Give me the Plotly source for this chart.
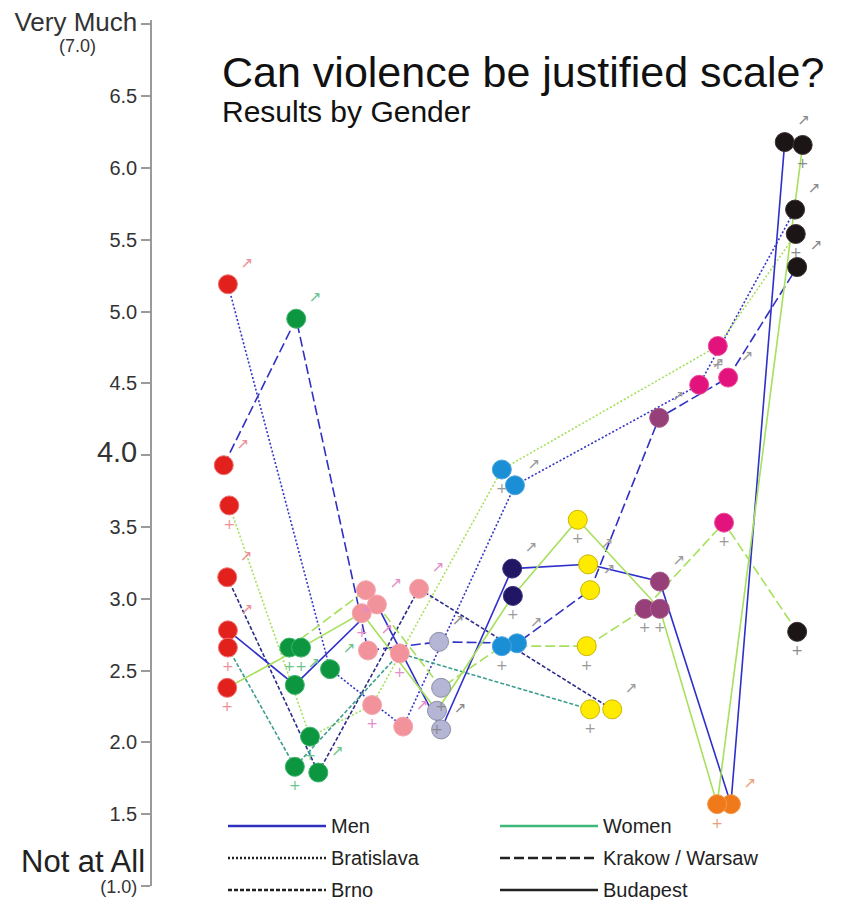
import plotly.graph_objects as go

# ---------------- data ----------------
# item colour groups (categories of the coloured dots)
items = ["red", "green", "pink", "lavender", "blue", "navy", "yellow", "purple", "magenta", "orange", "black"]
item_fill = ["#e2211d", "#0c9640", "#f2929b", "#b5b5d5", "#1b8fd6", "#211663", "#ffeb00", "#973f79", "#e3137e", "#f07a1a", "#1c1515"]
item_edge = ["#f07070", "#3cb46a", "#f5a8b0", "#8e8ea8", "#4aa6e0", "#3a3080", "#c9b600", "#a65a8c", "#ec4c98", "#f39a55", "#3a3030"]
item_symbol = ["#ee8e96", "#6cc48c", "#e48cc8", "#8a8a8a", "#9a9a9a", "#9a9a9a", "#9a9a9a", "#9a9a9a", "#9a9a9a", "#eba07c", "#8a8a8a"]

# every dot: id, item, gender, horizontal position (0-100), score (1-7 scale)
point_id = ["R1", "R2", "R3", "R4", "R5", "R6", "R7",
            "G1", "G2", "G3", "G4", "G5", "G6", "G7", "G8",
            "P1", "P2", "P3", "P4", "P5", "P6", "P7", "P8",
            "L1", "L2", "L3", "L4",
            "B1", "B2", "B3", "B4",
            "N1", "N2",
            "Y1", "Y2", "Y3", "Y4", "Y5", "Y6",
            "U1", "U2", "U3", "U4",
            "M1", "M2", "M3", "M4",
            "O1", "O2",
            "K1", "K2", "K3", "K4", "K5", "K6"]
point_item = ["red"] * 7 + ["green"] * 8 + ["pink"] * 8 + ["lavender"] * 4 + ["blue"] * 4 + ["navy"] * 2 + \
             ["yellow"] * 6 + ["purple"] * 4 + ["magenta"] * 4 + ["orange"] * 2 + ["black"] * 6
point_gender = ["M", "M", "F", "M", "M", "F", "F",
                "M", "F", "F", "M", "M", "F", "F", "M",
                "F", "M", "F", "M", "F", "M", "F", "M",
                "M", "F", "F", "M",
                "F", "M", "F", "M",
                "M", "F",
                "F", "M", "M", "F", "F", "M",
                "M", "M", "F", "F",
                "F", "M", "M", "F",
                "F", "M",
                "M", "F", "M", "F", "M", "F"]
point_pos = [11.0, 10.4, 11.2, 10.9, 11.0, 11.0, 10.9,
             20.9, 19.9, 21.6, 20.7, 25.8, 22.9, 20.7, 24.1,
             31.0, 32.6, 30.4, 31.3, 35.9, 38.7, 31.9, 36.4,
             41.6, 41.9, 41.3, 41.9,
             50.7, 52.6, 50.7, 52.9,
             52.2, 52.3,
             61.7, 63.2, 63.5, 63.0, 63.5, 66.7,
             73.5, 73.6, 71.4, 73.6,
             82.0, 79.3, 83.5, 82.9,
             81.9, 83.9,
             91.7, 94.3, 93.2, 93.3, 93.5, 93.5]
point_score = [5.19, 3.93, 3.65, 3.15, 2.78, 2.66, 2.38,
               4.95, 2.66, 2.66, 2.40, 2.51, 2.04, 1.83, 1.79,
               3.06, 2.96, 2.90, 2.64, 2.62, 3.07, 2.26, 2.11,
               2.70, 2.38, 2.22, 2.09,
               3.90, 3.79, 2.67, 2.69,
               3.21, 3.02,
               3.55, 3.24, 3.06, 2.67, 2.23, 2.23,
               4.26, 3.12, 2.93, 2.93,
               4.76, 4.49, 4.54, 3.53,
               1.57, 1.57,
               6.18, 6.16, 5.71, 5.54, 5.31, 2.77]

# series (city x gender) as the dots they connect
series_city = ["Bratislava", "Bratislava", "Brno", "Brno", "Krakow / Warsaw", "Krakow / Warsaw", "Budapest", "Budapest"]
series_gender = ["Men", "Women", "Men", "Women", "Men", "Women", "Men", "Women"]
series_points = [
    ["R1", "G5", "P8", "B2", "M2", "K3"],
    ["R3", "G6", "P7", "B1", "M1", "K4"],
    ["R4", "G8", "P6", "Y6"],
    ["R6", "G7", "P5", "Y5"],
    ["R2", "G1", "P4", "L1", "B4", "Y3", "U1", "M3", "K5"],
    ["G2", "P1", "L2", "B3", "Y4", "U3", "M4", "K6"],
    ["R5", "G4", "P2", "L4", "N1", "Y2", "U2", "O2", "K1"],
    ["R7", "G3", "P3", "L3", "N2", "Y1", "U4", "O1", "K2"],
]

tick_values = [1.0, 1.5, 2.0, 2.5, 3.0, 3.5, 4.0, 4.5, 5.0, 5.5, 6.0, 6.5, 7.0]
tick_labels = ["<span style='font-size:18px'>(1.0)</span>", "1.5", "2.0", "2.5", "3.0", "3.5",
               "<span style='font-size:29px'>4.0</span>", "4.5", "5.0", "5.5", "6.0", "6.5",
               "<span style='font-size:26px'>Very Much</span>"]

# ---------------- styles ----------------
FONT = "Liberation Sans, Arial, sans-serif"
city_dash = {"Bratislava": "2px,2px", "Brno": "4px,2px", "Krakow / Warsaw": "10px,4px", "Budapest": "solid"}
line_color = {
    ("Men", "Bratislava"): "#3434c8", ("Women", "Bratislava"): "#a6e05c",
    ("Men", "Brno"): "#2c2c8a", ("Women", "Brno"): "#3c9e8c",
    ("Men", "Krakow / Warsaw"): "#3030c4", ("Women", "Krakow / Warsaw"): "#a6e05c",
    ("Men", "Budapest"): "#2f2fcc", ("Women", "Budapest"): "#a6e05c",
}

idx = {p: i for i, p in enumerate(point_id)}

fig = go.Figure()

for city, gender, pts in zip(series_city, series_gender, series_points):
    fig.add_trace(go.Scatter(
        x=[point_pos[idx[p]] for p in pts],
        y=[point_score[idx[p]] for p in pts],
        mode="lines",
        line=dict(color=line_color[(gender, city)], width=1.6, dash=city_dash[city]),
        hoverinfo="skip",
    ))

for g, sym, pos, size in [("M", "↗", "top right", 15), ("F", "+", "bottom center", 14)]:
    sel = [i for i in range(len(point_id)) if point_gender[i] == g]
    fig.add_trace(go.Scatter(
        x=[point_pos[i] for i in sel],
        y=[point_score[i] for i in sel],
        mode="markers+text",
        marker=dict(size=19,
                    color=[item_fill[items.index(point_item[i])] for i in sel],
                    line=dict(width=1, color=[item_edge[items.index(point_item[i])] for i in sel])),
        text=[sym] * len(sel),
        textposition=pos,
        textfont=dict(size=size, family="DejaVu Sans",
                      color=[item_symbol[items.index(point_item[i])] for i in sel]),
        hoverinfo="skip",
    ))

# ---------------- layout ----------------
# the page body has an 8px margin, so the figure is laid out 8px smaller / shifted
OFF = 8
W, H = 842 - OFF, 900 - OFF
PLOT_LEFT, PLOT_TOP, PLOT_BOTTOM = 152, 20, 886          # page pixels
L, T, B, R = PLOT_LEFT - OFF, PLOT_TOP - OFF, H - (PLOT_BOTTOM - OFF), 0
PW, PH = W - L - R, H - T - B


def px(xp):
    return (xp - PLOT_LEFT) / PW


def py(yp):
    return (PLOT_BOTTOM - yp) / PH


annotations = [
    dict(text="Can violence be justified scale?", x=px(220), y=py(72), xanchor="left", yanchor="middle",
         font=dict(size=43, color="#111")),
    dict(text="Results by Gender", x=px(220), y=py(112), xanchor="left", yanchor="middle",
         font=dict(size=30, color="#111")),
    dict(text="(7.0)", x=px(77), y=py(46), xanchor="center", yanchor="middle",
         font=dict(size=18, color="#333")),
    dict(text="Not at All", x=px(147), y=py(861), xanchor="right", yanchor="middle",
         font=dict(size=31, color="#222")),
]

legend_rows = [
    ("Men", "#3030c0", "solid", 228, 826),
    ("Women", "#3cb878", "solid", 500, 826),
    ("Bratislava", "#222", "2px,2px", 228, 858),
    ("Krakow / Warsaw", "#222", "10px,4px", 500, 858),
    ("Brno", "#222", "4px,2px", 228, 890),
    ("Budapest", "#222", "solid", 500, 890),
]
shapes = []
for label, col, dash, x0, yy in legend_rows:
    shapes.append(dict(type="line", xref="paper", yref="paper", x0=px(x0), x1=px(x0 + 98),
                       y0=py(yy), y1=py(yy), line=dict(color=col, width=2.5, dash=dash)))
    annotations.append(dict(text=label, x=px(x0 + 101), y=py(yy), xanchor="left", yanchor="middle",
                            font=dict(size=20, color="#222")))

for a in annotations:
    a.update(xref="paper", yref="paper", showarrow=False)
    a["font"]["family"] = FONT

fig.update_layout(
    width=W, height=H,
    margin=dict(l=L, r=R, t=T, b=B, pad=0),
    paper_bgcolor="white", plot_bgcolor="white",
    showlegend=False,
    font=dict(family=FONT, color="#333"),
    xaxis=dict(range=[0, 100], visible=False, fixedrange=True),
    yaxis=dict(range=[1.0, 7.03], tickmode="array", tickvals=tick_values, ticktext=tick_labels,
               ticks="outside", ticklen=9, tickcolor="#9a9a9a", tickwidth=1.5,
               showline=True, linecolor="#9a9a9a", linewidth=1.5, ticklabeloverflow="allow",
               showgrid=False, zeroline=False, tickfont=dict(size=20, color="#333")),
    annotations=annotations,
    shapes=shapes,
)

fig.write_html("out.html")
